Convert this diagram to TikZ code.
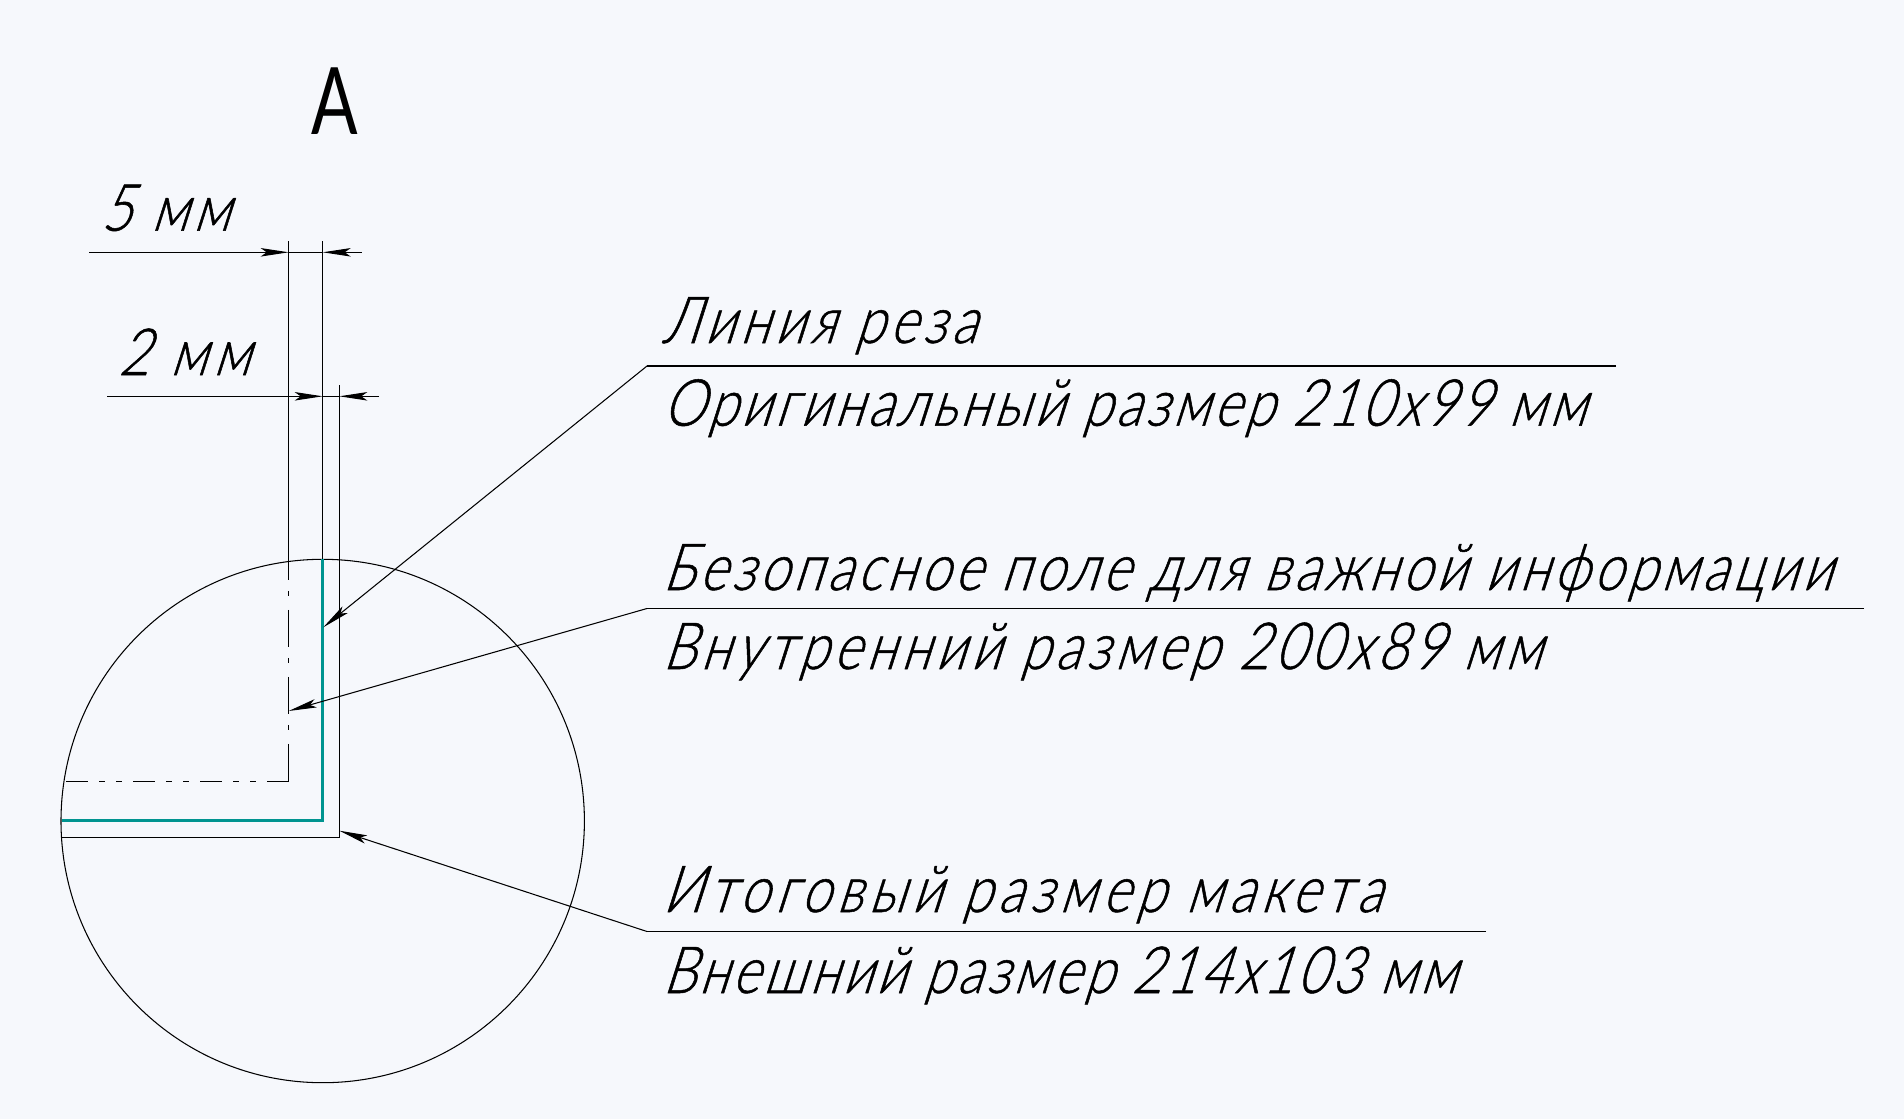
\documentclass[tikz,border=0pt]{standalone}
\usepackage{fontspec}
\usetikzlibrary{arrows.meta}
\newfontfamily\gostfont[FakeSlant=0.32,FakeStretch=0.82,FakeBold=0.8]{Lato Light}
\newfontfamily\viewfont[FakeStretch=0.74]{Lato}
\definecolor{PageBlue}{RGB}{246,248,252}
\definecolor{CutTeal}{RGB}{0,148,144}
\tikzset{
  thinline/.style={draw=black,line width=0.6pt},
  cutline/.style={draw=CutTeal,line width=1.7pt},
  centerline/.style={thinline,dash pattern=on 0.74cm off 0.22cm on 0.1cm off 0.28cm},
  centerdouble/.style={thinline,dash pattern=on 0.44cm off 0.22cm on 0.11cm off 0.23cm on 0.11cm off 0.23cm},
  pointer/.style={thinline,-{Stealth[length=0.56cm,width=0.17cm,inset=0.12cm]}},
  caption/.style={anchor=base west,inner sep=0pt,
    font=\gostfont\addfontfeature{LetterSpace=#1}\fontsize{37}{37}\selectfont}
}
\begin{document}
\begin{tikzpicture}[x=0.02cm,y=-0.02cm]
  \fill[PageBlue] (0,0) rectangle (1904,1119);
  \node[anchor=base west,inner sep=0pt,font=\viewfont\fontsize{53}{53}\selectfont] (viewname) at (311,134) {А};
  % dimension text
  \node[caption=7.5] (fivemm) at (100.5,230.7) {5 мм};
  \node[caption=9.5] (twomm) at (118,375) {2 мм};
  % detail circle
  \node[circle,thinline,minimum size=10.47cm,inner sep=0pt] (detail) at (322.7,821) {};
  % edges
  \coordinate (safetop) at (288.7,241);
  \coordinate (safebreak) at (288.7,543);
  \coordinate (safecorner) at (288.7,781.3);
  \coordinate (safeend) at (64.7,781.3);
  \coordinate (cuttop) at (322.7,241);
  \coordinate (cutstart) at (322.7,559.3);
  \coordinate (cutcorner) at (322.7,820.7);
  \coordinate (cutend) at (61.7,820.7);
  \coordinate (outertop) at (339.3,385);
  \coordinate (outercorner) at (339.3,837.3);
  \coordinate (outerend) at (61.7,837.3);
  \draw[thinline] (safetop) -- (safebreak);
  \draw[centerline] (safebreak) -- (safecorner);
  \draw[centerdouble] (safecorner) -- (safeend);
  \draw[thinline] (cuttop) -- (cutstart);
  \draw[cutline] (cutstart) -- (cutcorner) -- (cutend);
  \draw[thinline] (outertop) -- (outercorner) -- (outerend);
  % dimensions
  \coordinate (fivefrom) at (89,252.3);
  \coordinate (fiveleft) at (288.7,252.3);
  \coordinate (fiveright) at (322.7,252.3);
  \coordinate (fiveto) at (361.7,252.3);
  \draw[pointer] (fivefrom) -- (fiveleft);
  \draw[pointer] (fiveto) -- (fiveright);
  \draw[thinline] (fiveleft) -- (fiveright);
  \coordinate (twofrom) at (107,396.3);
  \coordinate (twoleft) at (322.7,396.3);
  \coordinate (tworight) at (339.3,396.3);
  \coordinate (twoto) at (379,396.3);
  \draw[pointer] (twofrom) -- (twoleft);
  \draw[pointer] (twoto) -- (tworight);
  \draw[thinline] (twoleft) -- (tworight);
  % callouts
  \node[caption=7.8] (cutname) at (662,343) {Линия реза};
  \node[caption=5.7] (cutsize) at (662,425.7) {Оригинальный размер 210х99 мм};
  \coordinate (cutknee) at (647,366);
  \coordinate (cutshelf) at (1616,366);
  \coordinate (cuttip) at (323.3,627.3);
  \draw[thinline] (cutshelf) -- (cutknee);
  \draw[pointer] (cutknee) -- (cuttip);
  \node[caption=6.5] (safename) at (662,590) {Безопасное поле для важной информации};
  \node[caption=7.8] (safesize) at (662,669) {Внутренний размер 200х89 мм};
  \coordinate (safeknee) at (647,608.5);
  \coordinate (safeshelf) at (1864,608.5);
  \coordinate (safetip) at (288.7,711);
  \draw[thinline] (safeshelf) -- (safeknee);
  \draw[pointer] (safeknee) -- (safetip);
  \node[caption=9.2] (finalname) at (662,912) {Итоговый размер макета};
  \node[caption=5.1] (finalsize) at (662,993) {Внешний размер 214х103 мм};
  \coordinate (finalknee) at (647,931.5);
  \coordinate (finalshelf) at (1486,931.5);
  \coordinate (finaltip) at (339.3,830.7);
  \draw[thinline] (finalshelf) -- (finalknee);
  \draw[pointer] (finalknee) -- (finaltip);
\end{tikzpicture}
\end{document}
